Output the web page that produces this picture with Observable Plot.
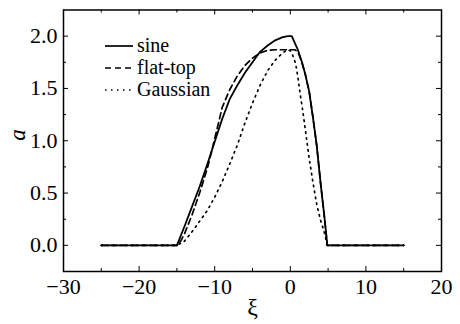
<!DOCTYPE html>
<html><head><meta charset="utf-8">
<script src="https://cdn.jsdelivr.net/npm/d3@7"></script>
<script src="https://cdn.jsdelivr.net/npm/@observablehq/plot@0.6"></script>
<style>
body{margin:0;background:#fff}
#wrap{position:relative;width:460px;height:324px}
#legend{position:absolute;left:0;top:0}
#wrap svg text{font-family:"Liberation Serif","DejaVu Serif",serif}
</style>
</head><body><div id="wrap"></div>
<script>
// ---- data ----
const sineXi = [-25,-15,-14,-13,-12,-11,-10,-9,-8,-7,-6,-5,-4,-3,-2,-1,-0.3,0.2,0.5,1,1.5,2,2.5,3,3.5,4,4.5,4.9,15];
const sineA  = [0,0,0.18,0.37,0.56,0.77,0.99,1.21,1.4,1.53,1.65,1.75,1.85,1.91,1.96,1.99,2.0,2.0,1.95,1.87,1.76,1.63,1.47,1.22,0.95,0.6,0.28,0,0];
const flatXi = [-25,-15,-14.5,-14,-13,-12,-11,-10.5,-10,-9,-8,-7,-6,-5,-4,-3,-2,-1,0,0.6,1,1.5,2,2.5,3,3.5,4,4.5,4.9,15];
const flatA  = [0,0,0.04,0.11,0.29,0.5,0.73,0.87,1.02,1.32,1.49,1.62,1.72,1.79,1.84,1.865,1.87,1.87,1.87,1.87,1.85,1.76,1.63,1.47,1.22,0.95,0.6,0.28,0,0];
const gaussXi = [-25,-15,-14,-13,-12,-11,-10,-9,-8,-7,-6,-5,-4,-3,-2,-1,-0.4,0,0.3,0.7,1,1.3,1.6,2,2.5,3,3.5,4,4.4,4.65,4.85,15];
const gaussA  = [0,0,0.04,0.13,0.23,0.33,0.46,0.61,0.78,0.96,1.17,1.36,1.53,1.67,1.77,1.84,1.87,1.86,1.82,1.74,1.61,1.45,1.31,1.1,0.83,0.6,0.39,0.24,0.15,0.08,0,0];

const seriesNames = ["sine", "flat-top", "Gaussian"];
const xMajor = [-30,-20,-10,0,10,20];
const xMinor = [-25,-15,-5,5,15];
const yMajor = [0,0.5,1,1.5,2];
const yMinor = [0.25,0.75,1.25,1.75];
const xDomain = [-30,20];
const yDomain = [-0.25,2.25];

// ---- layout ----
const FONT = '"Liberation Serif", "DejaVu Serif", serif';
const W = 460, H = 324, mL = 63, mR = 19, mT = 9.5, mB = 53;
const kx = (W - mL - mR) / (xDomain[1] - xDomain[0]);
const ky = (H - mT - mB) / (yDomain[1] - yDomain[0]);
const majLen = 5, minLen = 3;
const dashes = [null, "6,4", "1.5,4.5"];

const toRows = (xs, as, s) => xs.map((x, i) => ({xi: x, a: as[i], s}));
const rows = [
  ...toRows(sineXi, sineA, seriesNames[0]),
  ...toRows(flatXi, flatA, seriesNames[1]),
  ...toRows(gaussXi, gaussA, seriesNames[2])
];

const fmtX = d => d < 0 ? "\u2212" + Math.abs(d) : String(d);
const fmtY = d3.format(".1f");

const tickRulesX = (ticks, len) => [
  Plot.ruleX(ticks, {x: d => d, y1: yDomain[0], y2: yDomain[0] + len / ky, stroke: "#000", strokeWidth: 1}),
  Plot.ruleX(ticks, {x: d => d, y1: yDomain[1] - len / ky, y2: yDomain[1], stroke: "#000", strokeWidth: 1})
];
const tickRulesY = (ticks, len) => [
  Plot.ruleY(ticks, {y: d => d, x1: xDomain[0], x2: xDomain[0] + len / kx, stroke: "#000", strokeWidth: 1}),
  Plot.ruleY(ticks, {y: d => d, x1: xDomain[1] - len / kx, x2: xDomain[1], stroke: "#000", strokeWidth: 1})
];

const chart = Plot.plot({
  width: W, height: H,
  marginLeft: mL, marginRight: mR, marginTop: mT, marginBottom: mB,
  style: {fontFamily: FONT, fontSize: "22px", color: "#000", background: "#fff"},
  x: {domain: xDomain},
  y: {domain: yDomain},
  marks: [
    Plot.axisX({ticks: xMajor, tickSize: 0, tickPadding: 7, tickFormat: fmtX, label: null, fontSize: 22}),
    Plot.axisY({ticks: yMajor, tickSize: 0, tickPadding: 6, tickFormat: fmtY, label: null, fontSize: 22}),
    ...tickRulesX(xMajor, majLen), ...tickRulesX(xMinor, minLen),
    ...tickRulesY(yMajor, majLen), ...tickRulesY(yMinor, minLen),
    Plot.line(rows.filter(d => d.s === seriesNames[0]), {x: "xi", y: "a", stroke: "#000", strokeWidth: 1.8}),
    Plot.line(rows.filter(d => d.s === seriesNames[1]), {x: "xi", y: "a", stroke: "#000", strokeWidth: 1.7, strokeDasharray: dashes[1]}),
    Plot.line(rows.filter(d => d.s === seriesNames[2]), {x: "xi", y: "a", stroke: "#000", strokeWidth: 1.7, strokeDasharray: dashes[2]}),
    Plot.frame({stroke: "#000", strokeWidth: 1.5}),
    Plot.text(["a"], {frameAnchor: "left", dx: -45.5, rotate: -90, fontStyle: "italic", fontSize: 23, lineAnchor: "middle"}),
    Plot.text(["\u03BE"], {frameAnchor: "bottom", dy: 36, fontSize: 24, lineAnchor: "middle"})
  ]
});
document.getElementById("wrap").appendChild(chart);

// ---- legend overlay ----
const leg = d3.select("#wrap").append("svg").attr("id", "legend")
  .attr("width", W).attr("height", H);
const legY = [46, 68, 90];
seriesNames.forEach((name, i) => {
  leg.append("line").attr("x1", 105).attr("x2", 133).attr("y1", legY[i]).attr("y2", legY[i])
    .attr("stroke", "#000").attr("stroke-width", 1.7)
    .attr("stroke-dasharray", dashes[i]);
  leg.append("text").attr("x", 137).attr("y", legY[i]).attr("dy", "0.32em")
    .style("font-family", FONT).attr("font-size", 20)
    .text(name);
});
</script>
</body></html>
